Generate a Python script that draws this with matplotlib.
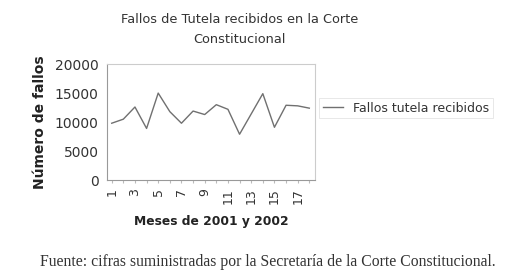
import numpy as np
import matplotlib.pyplot as plt

meses = list(range(1, 19))
fallos = [9800, 10500, 12600, 8900, 15000, 11800, 9800, 11900, 11300,
          13000, 12200, 7900, 11400, 14900, 9100, 12900, 12800, 12400]
tick_labels = [str(m) if m % 2 == 1 else '' for m in meses]

fig = plt.figure(figsize=(5.05, 2.74), dpi=100)
ax = fig.add_axes([0.212, 0.343, 0.412, 0.423])

ax.plot(meses, fallos, color='#707070', linewidth=1.0)
ax.set_xlim(0.6, 18.5)
ax.set_ylim(0, 20000)
ax.set_yticks([0, 5000, 10000, 15000, 20000])
ax.set_xticks(meses)
ax.set_xticklabels(tick_labels, rotation=90, fontsize=9, color='#333333')
ax.tick_params(axis='y', labelsize=10, length=0, pad=6, labelcolor='#333333')
ax.tick_params(axis='x', length=2, color='#bbbbbb', pad=4)
for s in ax.spines.values():
    s.set_color('#cccccc')
    s.set_linewidth(0.8)
ax.spines['bottom'].set_color('#999999')
ax.spines['left'].set_color('#999999')

ax.set_ylabel('Número de fallos', fontsize=10, fontweight='bold', color='#222222', labelpad=6)
ax.set_xlabel('Meses de 2001 y 2002', fontsize=8.8, fontweight='bold', color='#222222', labelpad=8)

leg = ax.legend(['Fallos tutela recibidos'], loc='center left', bbox_to_anchor=(0.99, 0.62),
                fontsize=9, frameon=True, fancybox=False, handlelength=1.6,
                borderpad=0.3, labelcolor='#333333')
leg.get_frame().set_edgecolor('#dddddd')
leg.get_frame().set_linewidth(0.6)

fig.text(0.475, 0.892, 'Fallos de Tutela recibidos en la Corte\nConstitucional',
         ha='center', va='center', fontsize=9.3, color='#333333', linespacing=1.75)

fig.text(0.079, 0.044, 'Fuente: cifras suministradas por la Secretaría de la Corte Constitucional.',
         ha='left', va='center', fontsize=11.3, family='Liberation Serif', color='#333333')

fig.savefig('out.png', dpi=100)
